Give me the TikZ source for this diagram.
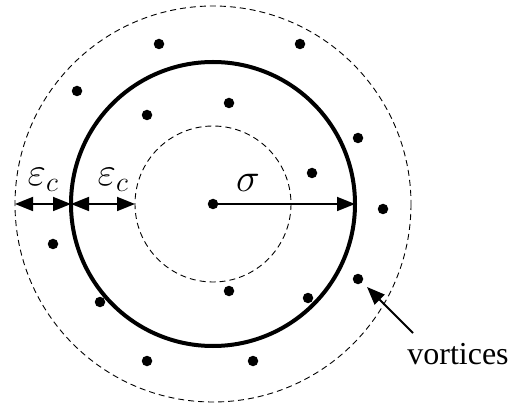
\RequirePackage{fix-cm}
\documentclass[tikz,border=0pt]{standalone}
\usepackage{amsmath,amssymb}
\usepackage{fontspec}
\setmainfont{Liberation Serif}
\usepackage{tikz}
\usetikzlibrary{arrows.meta}

\tikzset{
  vortex/.style={circle,fill,inner sep=0pt,minimum size=10.5pt},
  ring/.style={dashed,line width=0.9pt,dash pattern=on 6pt off 4pt},
  dimarrow/.style={line width=1.8pt,{Triangle[length=18pt,width=14pt]}-{Triangle[length=18pt,width=14pt]}},
  radarrow/.style={line width=1.8pt,-{Triangle[length=18pt,width=14pt]}},
  lbl/.style={font=\fontsize{32}{38}\selectfont,inner sep=0pt},
  mlbl/.style={font=\fontsize{40}{46}\selectfont,inner sep=0pt}
}

\begin{document}
\begin{tikzpicture}[x=1pt,y=-1pt]
                \useasboundingbox (0,0) rectangle (511,403);
                \coordinate (c) at (213,204);
                \draw[ring] (c) circle (198);
                \draw[ring] (c) circle (78);
                \draw[line width=4pt] (c) circle (142);
                % points on the horizontal line through the centre
                \coordinate (ol) at (15,204);
                \coordinate (tl) at (71,204);
                \coordinate (il) at (135,204);
                \coordinate (tr) at (355,204);
                \draw[dimarrow] (ol)--(tl);
                \draw[dimarrow] (tl)--(il);
                \node[vortex] (v0) at (c) {};
                \draw[radarrow] (v0.center)--(tr);
                \node[mlbl] (e1) at (43,180) {$\varepsilon_c$};
                \node[mlbl] (e2) at (113,180) {$\varepsilon_c$};
                \node[mlbl] (s) at (248,183) {$\sigma$};
                % vortices
                \foreach \px/\py [count=\i] in {159/44,300/44,77/91,229/103,147/115,358/138,312/173,383/209,
                                                53/244,358/279,229/291,100/302,308/298,147/361,253/361}
                    \node[vortex] (v\i) at (\px,\py) {};
                \node[lbl,anchor=base] (vl) at (458,364) {vortices};
                \coordinate (tail) at (413,333);
                \coordinate (tip) at (367,287);
                \draw[radarrow] (tail)--(tip);
            \end{tikzpicture}
\end{document}
